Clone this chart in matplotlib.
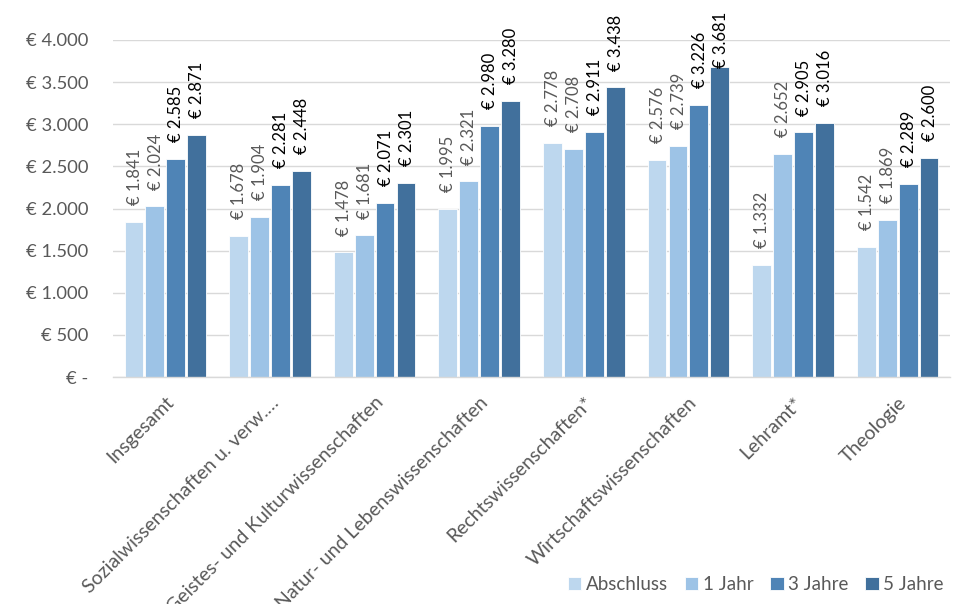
import matplotlib.pyplot as plt
import numpy as np

plt.rcParams['font.family'] = ['Lato', 'DejaVu Sans']

categories = ['Insgesamt', 'Sozialwissenschaften u. verw.…', 'Geistes- und Kulturwissenschaften',
              'Natur- und Lebenswissenschaften', 'Rechtswissenschaften*', 'Wirtschaftswissenschaften',
              'Lehramt*', 'Theologie']
series_names = ['Abschluss', '1 Jahr', '3 Jahre', '5 Jahre']
abschluss = [1841, 1678, 1478, 1995, 2778, 2576, 1332, 1542]
jahr1 = [2024, 1904, 1681, 2321, 2708, 2739, 2652, 1869]
jahre3 = [2585, 2281, 2071, 2980, 2911, 3226, 2905, 2289]
jahre5 = [2871, 2448, 2301, 3280, 3438, 3681, 3016, 2600]
yticks = [0, 500, 1000, 1500, 2000, 2500, 3000, 3500, 4000]
ytick_labels = ['€ -', '€ 500', '€ 1.000', '€ 1.500', '€ 2.000', '€ 2.500', '€ 3.000', '€ 3.500', '€ 4.000']

colors = ['#BDD7EE', '#9DC3E6', '#4F84B6', '#41709C']
label_colors = ['#595959', '#595959', '#000000', '#000000']

def fmt(v):
    return '€ ' + f'{v:,}'.replace(',', '.')

fig = plt.figure(figsize=(9.59, 6.04), dpi=100)
ax = fig.add_axes([113 / 959, 1 - 377 / 604, (950 - 113) / 959, (377 - 40) / 604])
ax.set_xlim(-0.5, len(categories) - 0.5)
ax.set_ylim(0, 4000)

x = np.arange(len(categories))
step = 0.2
width = 0.18
data = [abschluss, jahr1, jahre3, jahre5]
fig_h = fig.get_figheight() * fig.dpi
for i, vals in enumerate(data):
    pos = x + (i - 1.5) * step
    ax.bar(pos, vals, width, color=colors[i], edgecolor='white', linewidth=0.6,
           label=series_names[i], zorder=3)
    for p, v in zip(pos, vals):
        # label top sits ~73 px above the bar, kept inside the figure like Excel does
        bar_px = ax.transData.transform((p, v))[1]
        top_px = min(bar_px + 73, fig_h - 12)
        off = (top_px - bar_px) * 72 / fig.dpi
        ax.annotate(fmt(v), (p, v), xytext=(0.5, off), textcoords='offset points',
                    rotation=90, ha='center', va='top',
                    fontsize=12, color=label_colors[i], zorder=4)

ax.set_yticks(yticks)
ax.set_yticklabels(ytick_labels, fontsize=13.2, color='#595959')
ax.set_xticks(x)
ax.set_xticklabels(categories, rotation=45, ha='right', rotation_mode='anchor',
                   fontsize=14, color='#595959')
ax.tick_params(axis='y', length=0, pad=18)
ax.tick_params(axis='x', length=0, pad=12)
ax.grid(axis='y', color='#D9D9D9', linewidth=1, zorder=0)
for s in ['top', 'right', 'left']:
    ax.spines[s].set_visible(False)
ax.spines['bottom'].set_color('#D9D9D9')
ax.spines['bottom'].set_linewidth(1)
ax.spines['bottom'].set_zorder(5)

leg = fig.legend(loc='lower right', bbox_to_anchor=(955 / 959, 0.0), ncol=4, frameon=False,
                 fontsize=13.5, handlelength=0.7, handleheight=0.7, handletextpad=0.25,
                 columnspacing=0.9, borderaxespad=0.2)
for t in leg.get_texts():
    t.set_color('#595959')

fig.savefig('out.png', dpi=100)
